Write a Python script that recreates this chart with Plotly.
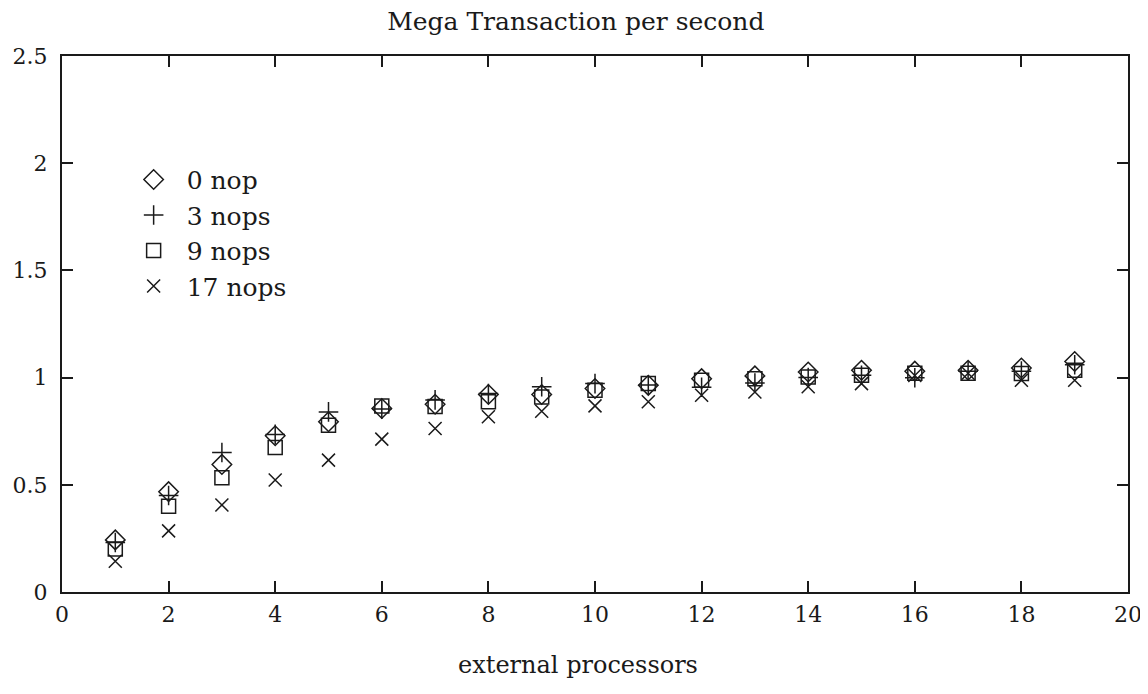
import plotly.graph_objects as go

processors = list(range(1, 20))
nop0 = [0.243, 0.468, 0.595, 0.729, 0.794, 0.856, 0.876, 0.921, 0.921, 0.949, 0.964, 0.995, 1.008, 1.026, 1.034, 1.030, 1.034, 1.045, 1.075]
nops3 = [0.231, 0.450, 0.651, 0.735, 0.840, 0.853, 0.896, 0.926, 0.957, 0.972, 0.965, 0.955, 0.975, 1.000, 1.011, 0.999, 1.030, 1.030, 1.060]
nops9 = [0.200, 0.400, 0.533, 0.674, 0.778, 0.868, 0.865, 0.887, 0.910, 0.941, 0.972, 0.988, 0.995, 1.003, 1.011, 1.020, 1.020, 1.019, 1.034]
nops17 = [0.143, 0.285, 0.406, 0.522, 0.615, 0.713, 0.763, 0.817, 0.843, 0.868, 0.887, 0.918, 0.933, 0.957, 0.972, 1.010, 1.020, 0.988, 0.988]

series_names = ["0 nop", "3 nops", "9 nops", "17 nops"]
x_ticks = [0, 2, 4, 6, 8, 10, 12, 14, 16, 18, 20]
y_ticks = [0, 0.5, 1, 1.5, 2, 2.5]
y_tick_labels = ["0", "0.5", "1", "1.5", "2", "2.5"]

FONT = "DejaVu Serif"
INK = "#1a1a1a"

styles = [
    ("diamond-open", 15),
    ("cross-thin-open", 14),
    ("square-open", 14),
    ("x-thin-open", 13),
]

fig = go.Figure()
for name, vals, (sym, sz) in zip(series_names, [nop0, nops3, nops9, nops17], styles):
    fig.add_trace(go.Scatter(
        x=processors, y=vals, mode="markers", name=name,
        marker=dict(symbol=sym, size=sz, color=INK, line=dict(color=INK, width=1.5)),
    ))

axis_common = dict(
    showline=True, linecolor=INK, linewidth=2, mirror="ticks",
    ticks="inside", ticklen=11, tickwidth=1.5, tickcolor=INK,
    showgrid=False, zeroline=False, automargin=False,
    tickfont=dict(family=FONT, size=22, color=INK),
)

# page body adds an 8px offset; figure sized so the plot lands where the reference has it
fig.update_layout(
    width=1140, height=686,
    margin=dict(l=54, r=20, t=48, b=102),
    paper_bgcolor="white", plot_bgcolor="white",
    font=dict(family=FONT, size=22, color=INK),
    title=dict(text="Mega Transaction per second", xref="paper", x=0.482, xanchor="center",
               y=0.98, yanchor="middle", font=dict(family=FONT, size=25, color=INK)),
    xaxis=dict(range=[0, 20], tickvals=x_ticks, ticktext=[str(t) for t in x_ticks],
               ticklabelstandoff=2, **axis_common),
    yaxis=dict(range=[0, 2.5], tickvals=y_ticks, ticktext=y_tick_labels,
               ticklabelstandoff=8, **axis_common),
    legend=dict(x=0.055, y=0.812, xanchor="left", yanchor="top", bgcolor="rgba(0,0,0,0)",
                font=dict(family=FONT, size=25, color=INK), itemwidth=56, tracegroupgap=0),
    annotations=[dict(text="external processors", xref="paper", yref="paper",
                      x=0.484, y=-0.136, xanchor="center", yanchor="middle", showarrow=False,
                      font=dict(family=FONT, size=24, color=INK))],
)

fig.write_html("out.html")
